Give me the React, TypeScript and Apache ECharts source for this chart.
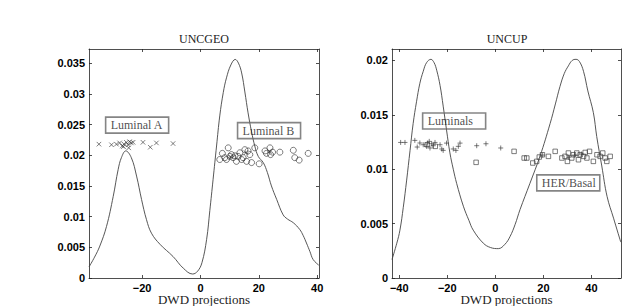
import React, { useEffect, useRef } from "react";
import * as echarts from "echarts";

const geoCurve: [number, number][] = [
  [-38.2, 0.0018], [-36.3, 0.0034], [-34.5, 0.0052], [-32.2, 0.0084], [-29.9, 0.0133],
  [-28.2, 0.0177], [-27.1, 0.0196], [-25.6, 0.0207], [-23.7, 0.0196], [-21.9, 0.0166],
  [-20.2, 0.0128], [-18.5, 0.0095], [-16.8, 0.0073], [-13.9, 0.0055], [-9.4, 0.0035],
  [-5.9, 0.0016], [-2.7, 0.00065], [-1, 0.0011], [0.5, 0.0025], [2.1, 0.0063],
  [3.2, 0.011], [4.3, 0.016], [5.5, 0.0215], [6.6, 0.0264], [7.8, 0.0302],
  [8.9, 0.0326], [10.4, 0.0347], [11.9, 0.0356], [13, 0.035], [14.1, 0.0334],
  [15.2, 0.0303], [16.3, 0.0269], [17.5, 0.0238], [18.6, 0.0215], [19.8, 0.0198],
  [21.5, 0.0188], [22.9, 0.0172], [24.3, 0.015], [26.1, 0.0128], [28.3, 0.0103],
  [29.8, 0.0096], [31.8, 0.009], [34, 0.0079], [35.2, 0.0069], [36.3, 0.0057],
  [37.5, 0.0043], [38.6, 0.003], [40.5, 0.0021],
];

const geoLuminalA: [number, number][] = [
  [-34.8, 0.0218], [-30.5, 0.0217], [-28.8, 0.0218], [-27.7, 0.022], [-26.8, 0.0215],
  [-26.4, 0.0214], [-26.2, 0.0218], [-25.4, 0.0221], [-24.8, 0.0217], [-24.6, 0.0212],
  [-24.3, 0.0222], [-23.7, 0.022], [-23.1, 0.0221], [-19.7, 0.0221], [-17.2, 0.0213],
  [-15.1, 0.022], [-9.4, 0.0219],
];

const geoLuminalB: [number, number][] = [
  [6.6, 0.0193], [7.5, 0.0203], [8.3, 0.0196], [8.9, 0.0193], [9.5, 0.0212],
  [10.1, 0.0198], [10.6, 0.0201], [11.2, 0.0196], [11.8, 0.0199], [12.3, 0.019],
  [12.9, 0.0198], [13.5, 0.0204], [14.1, 0.0193], [14.6, 0.0196], [15.2, 0.0209],
  [15.8, 0.019], [16.3, 0.0207], [16.9, 0.0201], [17.5, 0.0188], [18.6, 0.0212],
  [20.1, 0.0186], [22.1, 0.0207], [22.6, 0.0203], [23.8, 0.0212], [24, 0.0201],
  [24.7, 0.0205], [27.2, 0.0205], [31.8, 0.0208], [32.3, 0.0196], [33.8, 0.0192],
  [36.9, 0.0203],
];

const geoLuminalBCross: [number, number][] = [
  [10.4, 0.0197], [15.6, 0.0204], [23.7, 0.0206],
];

const upCurve: [number, number][] = [
  [-43, 0.0017], [-41, 0.0032], [-39.7, 0.0044], [-38.3, 0.0065], [-36.9, 0.009],
  [-35.5, 0.0117], [-34.2, 0.0142], [-32.8, 0.0162], [-31.4, 0.0179], [-30, 0.019],
  [-28.6, 0.0198], [-26.8, 0.0201], [-25.5, 0.0198], [-24.4, 0.0191], [-23, 0.0177],
  [-21.7, 0.0158], [-20.3, 0.0136], [-18.9, 0.0115], [-17.5, 0.01], [-16.1, 0.0087],
  [-13.3, 0.0066], [-11, 0.0053], [-9.2, 0.0044], [-5, 0.0032], [-2, 0.0028],
  [1.25, 0.0027], [4, 0.0031], [6.1, 0.0038], [8.2, 0.0049], [10.3, 0.0063],
  [14.4, 0.0087], [18.6, 0.0112], [22.8, 0.0142], [25, 0.016], [26.9, 0.0176],
  [28.7, 0.0188], [30.4, 0.0195], [32, 0.02], [33.6, 0.0201], [35, 0.0199],
  [36.7, 0.019], [38.5, 0.0172], [40.8, 0.0152], [42.2, 0.013], [44.3, 0.0103],
  [46.5, 0.0075], [49.2, 0.0055], [52.2, 0.0033],
];

const upLuminals: [number, number][] = [
  [-39.4, 0.01246], [-37.6, 0.01246], [-33.5, 0.01265], [-32.5, 0.01204], [-31.4, 0.01241],
  [-30, 0.01225], [-28.6, 0.0121], [-28.2, 0.0124], [-27.5, 0.01256], [-27.2, 0.01195],
  [-26.5, 0.01234], [-25.8, 0.01216], [-25.1, 0.01246], [-23, 0.01225], [-22.3, 0.01186],
  [-21.7, 0.01173], [-20.3, 0.0124], [-17.5, 0.01186], [-16.4, 0.01173], [-15.4, 0.0121],
  [-14.7, 0.0124], [-7.75, 0.01216], [-3.9, 0.01234], [2.25, 0.01195],
  [19.7, 0.0113], [30.5, 0.0111], [33, 0.0113], [35.8, 0.0114],
];

const upHerBasal: [number, number][] = [
  [-28.4, 0.01225], [-25, 0.0121], [-8, 0.01063], [7.8, 0.01164], [12, 0.01103],
  [13.1, 0.01103], [15.6, 0.01057], [17.2, 0.01072], [18.3, 0.01112], [19.6, 0.01133],
  [22.1, 0.01118], [24.9, 0.01164], [27.7, 0.01103], [29, 0.01118], [30, 0.01072],
  [30.4, 0.01149], [31.8, 0.01103], [32.5, 0.01133], [33.9, 0.01149], [34.6, 0.01087],
  [35.3, 0.01133], [36.7, 0.01118], [37.4, 0.01154], [38.1, 0.01103], [39.2, 0.01164],
  [40.8, 0.01072], [42.3, 0.01133], [43.6, 0.01118], [44.7, 0.01149], [45.7, 0.01103],
  [46.4, 0.01072], [47.8, 0.01118],
];

const geoXTicks = [-20, 0, 20, 40];
const geoYTicks = [0, 0.005, 0.01, 0.015, 0.02, 0.025, 0.03, 0.035];
const upXTicks = [-40, -20, 0, 20, 40];
const upYTicks = [0, 0.005, 0.01, 0.015, 0.02];

// left edge / vertical centre of each annotation box, in data units
const geoAnnotations = [
  { name: "Luminal A", value: [-32.5, 0.0249] },
  { name: "Luminal B", value: [12.7, 0.024] },
];
const upAnnotations = [
  { name: "Luminals", value: [-30.25, 0.01443] },
  { name: "HER/Basal", value: [17.25, 0.00874] },
];

const SERIF = "'Liberation Serif', 'DejaVu Serif', serif";
const SANS = "'Liberation Sans', Arial, sans-serif";
const INK = "#222";

const fmt = (v: number) => (v < 0 ? "\u2212" + String(-v) : String(v));

function xAxisPair(grid: number, min: number, max: number, ticks: number[]) {
  const common = {
    type: "value",
    gridIndex: grid,
    min,
    max,
    splitLine: { show: false },
    axisLine: { show: true, onZero: false, lineStyle: { color: INK, width: 0.8 } },
  };
  return [
    {
      ...common,
      position: "bottom",
      name: "DWD projections",
      nameLocation: "middle",
      nameGap: 15,
      nameMoveOverlap: false,
      nameTextStyle: { fontFamily: SERIF, fontSize: 13, color: INK, lineHeight: 13 },
      axisTick: { show: true, inside: true, length: 3, customValues: ticks, lineStyle: { color: INK, width: 0.8 } },
      axisLabel: {
        show: true,
        customValues: ticks,
        formatter: fmt,
        fontFamily: SANS,
        fontWeight: "bold",
        fontSize: 11,
        lineHeight: 11,
        color: "#000",
        margin: 4,
      },
    },
    {
      ...common,
      position: "top",
      axisTick: { show: true, inside: true, length: 3, customValues: ticks, lineStyle: { color: INK, width: 0.8 } },
      axisLabel: { show: false },
    },
  ];
}

function yAxisPair(grid: number, max: number, ticks: number[]) {
  const common = {
    type: "value",
    gridIndex: grid,
    min: 0,
    max,
    splitLine: { show: false },
    axisLine: { show: true, onZero: false, lineStyle: { color: INK, width: 0.8 } },
  };
  return [
    {
      ...common,
      position: "left",
      axisTick: { show: true, inside: true, length: 3, customValues: ticks, lineStyle: { color: INK, width: 0.8 } },
      axisLabel: {
        show: true,
        customValues: ticks,
        formatter: fmt,
        fontFamily: SANS,
        fontWeight: "bold",
        fontSize: 11,
        color: "#000",
        margin: 4,
      },
    },
    {
      ...common,
      position: "right",
      axisTick: { show: true, inside: true, length: 3, customValues: ticks, lineStyle: { color: INK, width: 0.8 } },
      axisLabel: { show: false },
    },
  ];
}

const markerStyle = { color: "rgba(0,0,0,0)", borderColor: "#333", borderWidth: 0.8 };

function annotationSeries(xi: number, yi: number, data: any[]) {
  return {
    type: "scatter",
    xAxisIndex: xi,
    yAxisIndex: yi,
    symbolSize: 0,
    silent: true,
    z: 5,
    data,
    itemStyle: { color: "#fff" },
    label: {
      show: true,
      position: "right",
      distance: 0,
      formatter: (p: any) => p.name,
      fontFamily: SERIF,
      fontSize: 12,
      fontWeight: "normal",
      color: INK,
      textBorderWidth: 0,
      textBorderColor: "transparent",
      textShadowBlur: 0,
      width: 55,
      height: 12,
      align: "left",
      padding: [2, 3, 2, 5],
      borderColor: "#666",
      borderWidth: 0.8,
      backgroundColor: "rgba(255,255,255,0)",
    },
  };
}

export default function App() {
  const ref = useRef<HTMLDivElement>(null);
  useEffect(() => {
    if (!ref.current) return;
    const chart = echarts.init(ref.current, undefined, { renderer: "svg" });
    chart.setOption({
      animation: false,
      backgroundColor: "#fff",
      graphic: [
        {
          type: "text",
          x: 204,
          y: 39,
          style: { text: "UNCGEO", fontFamily: SERIF, fontSize: 12, fill: INK, textAlign: "center", textVerticalAlign: "middle" },
        },
        {
          type: "text",
          x: 507,
          y: 39,
          style: { text: "UNCUP", fontFamily: SERIF, fontSize: 12, fill: INK, textAlign: "center", textVerticalAlign: "middle" },
        },
      ],
      grid: [
        { left: 89, top: 49, width: 230, height: 229, containLabel: false, outerBoundsMode: "none" },
        { left: 392, top: 49, width: 229, height: 229, containLabel: false, outerBoundsMode: "none" },
      ],
      xAxis: [...xAxisPair(0, -38.2, 40.6, geoXTicks), ...xAxisPair(1, -43, 52.3, upXTicks)],
      yAxis: [...yAxisPair(0, 0.0373, geoYTicks), ...yAxisPair(1, 0.02105, upYTicks)],
      series: [
        {
          type: "line",
          xAxisIndex: 0,
          yAxisIndex: 0,
          data: geoCurve,
          showSymbol: false,
          smooth: 0.4,
          lineStyle: { color: "#444", width: 0.9 },
        },
        {
          type: "scatter",
          xAxisIndex: 0,
          yAxisIndex: 0,
          data: geoLuminalA,
          symbol: "path://M0,0L10,10M0,10L10,0",
          symbolSize: 4.5,
          itemStyle: markerStyle,
        },
        {
          type: "scatter",
          xAxisIndex: 0,
          yAxisIndex: 0,
          data: geoLuminalB,
          symbol: "circle",
          symbolSize: 6,
          itemStyle: markerStyle,
        },
        {
          type: "scatter",
          xAxisIndex: 0,
          yAxisIndex: 0,
          data: geoLuminalBCross,
          symbol: "path://M0,0L10,10M0,10L10,0",
          symbolSize: 4.5,
          itemStyle: markerStyle,
        },
        annotationSeries(0, 0, geoAnnotations),
        {
          type: "line",
          xAxisIndex: 2,
          yAxisIndex: 2,
          data: upCurve,
          showSymbol: false,
          smooth: 0.4,
          lineStyle: { color: "#444", width: 0.9 },
        },
        {
          type: "scatter",
          xAxisIndex: 2,
          yAxisIndex: 2,
          data: upLuminals,
          symbol: "path://M5,0L5,10M0,5L10,5",
          symbolSize: 5,
          itemStyle: markerStyle,
        },
        {
          type: "scatter",
          xAxisIndex: 2,
          yAxisIndex: 2,
          data: upHerBasal,
          symbol: "rect",
          symbolSize: 4.5,
          itemStyle: markerStyle,
        },
        annotationSeries(2, 2, upAnnotations),
      ],
    });
    return () => chart.dispose();
  }, []);
  return (
    <div
      ref={ref}
      style={{ position: "fixed", left: 0, top: 0, width: 623, height: 306, background: "#fff" }}
    />
  );
}
